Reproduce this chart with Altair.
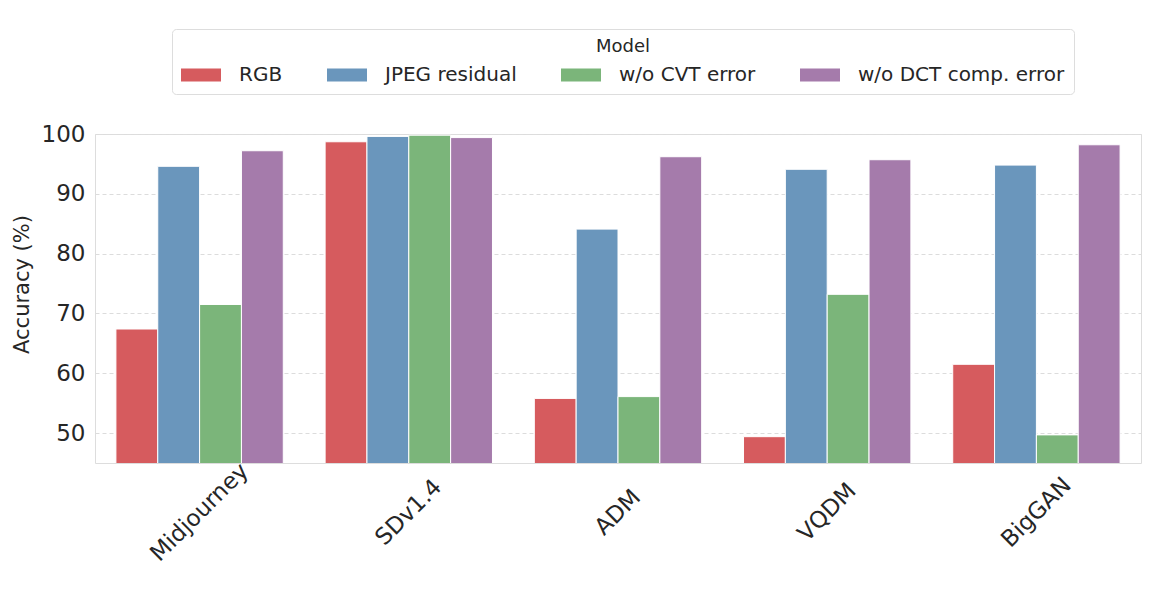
import altair as alt
import pandas as pd

generators = ["Midjourney", "SDv1.4", "ADM", "VQDM", "BigGAN"]
models = ["RGB", "JPEG residual", "w/o CVT error", "w/o DCT comp. error"]
rgb = [67.4, 98.7, 55.8, 49.4, 61.5]
jpeg_residual = [94.6, 99.6, 84.1, 94.1, 94.8]
wo_cvt = [71.5, 99.8, 56.1, 73.2, 49.7]
wo_dct = [97.2, 99.4, 96.2, 95.7, 98.2]
colors = ["#d65b5e", "#6a96bc", "#7bb57a", "#a57bab"]

rows = []
for m, vals in zip(models, [rgb, jpeg_residual, wo_cvt, wo_dct]):
    for g, v in zip(generators, vals):
        rows.append({"Generator": g, "Model": m, "Accuracy": v})
df = pd.DataFrame(rows)

FONT = "DejaVu Sans"
TXT = "#262626"

chart = alt.Chart(df).mark_bar(clip=True, stroke="white", strokeWidth=1).encode(
    x=alt.X("Generator:N", sort=generators, title=None,
            scale=alt.Scale(paddingInner=0.2, paddingOuter=0.1),
            axis=alt.Axis(labelAngle=-45, labelAlign="center", labelBaseline="middle",
                          labelPadding=49, ticks=False, domain=False,
                          labelFontSize=23, labelColor=TXT, labelFont=FONT, grid=False)),
    xOffset=alt.XOffset("Model:N", sort=models, scale=alt.Scale(paddingInner=0, paddingOuter=0)),
    y=alt.Y("Accuracy:Q", title="Accuracy (%)",
            scale=alt.Scale(domain=[45, 100], nice=False, zero=False),
            axis=alt.Axis(values=[50, 60, 70, 80, 90, 100], ticks=False, domain=False,
                          labelFontSize=23, labelColor=TXT, labelFont=FONT, labelPadding=10,
                          titleFontSize=21, titleFont=FONT, titleColor=TXT, titleFontWeight="normal",
                          titlePadding=9, titleY=150, grid=True, gridColor="#dcdcdc", gridDash=[4, 3],
                          gridWidth=1)),
    color=alt.Color("Model:N", sort=models,
                    scale=alt.Scale(domain=models, range=colors),
                    legend=alt.Legend(orient="none", legendX=77, legendY=-105,
                                      direction="horizontal", columns=4,
                                      title="Model", titleFontSize=18, titleFont=FONT,
                                      titleColor=TXT, titleFontWeight="normal",
                                      titleAnchor="middle", titleAlign="center",
                                      titlePadding=-1,
                                      labelFontSize=20, labelFont=FONT, labelColor=TXT,
                                      labelOffset=18, columnPadding=44, labelLimit=400,
                                      symbolType="M-1,-0.33L1,-0.33L1,0.33L-1,0.33Z",
                                      symbolSize=1600, symbolStrokeWidth=0,
                                      symbolOpacity=1,
                                      padding=9, strokeColor="#dddddd", fillColor="white",
                                      cornerRadius=4)),
).properties(
    width=1046, height=329,
    padding={"left": 3, "top": 20, "right": 5, "bottom": 5},
).configure_view(
    stroke="#cccccc", strokeWidth=1.25
).configure(font=FONT)

chart.save("out.html", embed_options={"renderer": "svg", "actions": False})
